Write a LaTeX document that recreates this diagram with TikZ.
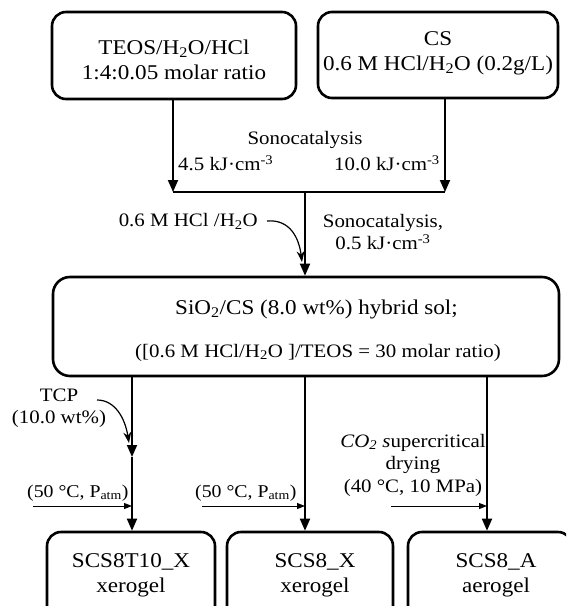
\documentclass[tikz,border=0pt]{standalone}
\usepackage{fontspec}
\setmainfont{Liberation Serif}[FakeStretch=1.1]
\usetikzlibrary{arrows.meta}
\tikzset{
  box/.style={draw, line width=2.6pt, rounded corners=14pt, inner sep=0pt},
  main/.style={font=\fontsize{21}{25}\selectfont, inner sep=0pt, align=center},
  sub/.style={font=\fontsize{19}{22.5}\selectfont, inner sep=0pt, align=center},
  lbl/.style={font=\fontsize{19}{22.5}\selectfont, inner sep=0pt, align=center},
  cond/.style={font=\fontsize{18}{22}\selectfont, inner sep=0pt, align=center},
  arr/.style={line width=1.8pt, -{Triangle[length=12pt,width=10pt]}},
  thinarr/.style={line width=1pt, -{Triangle[length=8pt,width=6pt]}},
  curarr/.style={line width=1.2pt, -{Stealth[length=11pt,width=8pt]}},
  plain/.style={line width=1.8pt},
}
\begin{document}
\begin{tikzpicture}[x=1pt,y=-1pt]
\useasboundingbox (0,0) rectangle (566,606);
\clip (0,0) rectangle (566,606);
% boxes
\node[box, minimum width=244pt, minimum height=87pt] (a) at (174,55.5) {};
\node[box, minimum width=240pt, minimum height=86pt] (b) at (438,55) {};
\node[box, minimum width=506pt, minimum height=99pt, rounded corners=17pt] (c) at (306,326.5) {};
\node[box, minimum width=168pt, minimum height=93pt] (d) at (131,578.5) {};
\node[box, minimum width=166pt, minimum height=93pt] (e) at (310,578.5) {};
\node[box, minimum width=164pt, minimum height=93pt] (f) at (490,578.5) {};
% box texts
\node[main] (ta) at (174,60) {TEOS/H\textsubscript{2}O/HCl\\1:4:0.05 molar ratio};
\node[main] (tb) at (438,53) {CS\\0.6 M HCl/H\textsubscript{2}O (0.2g/L)};
\node[main, anchor=base west] (tc1) at (175,314) {SiO\textsubscript{2}/CS (8.0 wt\%) hybrid sol;};
\node[sub, anchor=base west] (tc2) at (135,357) {([0.6 M HCl/H\textsubscript{2}O ]/TEOS = 30 molar ratio)};
\node[main] (td) at (131,575) {SCS8T10\_X\\xerogel};
\node[main] (te) at (315,575) {SCS8\_X\\xerogel};
\node[main] (tf) at (496,575) {SCS8\_A\\aerogel};
% junction
\coordinate (jl) at (173,192);
\coordinate (jr) at (445,192);
\coordinate (jm) at (305,192);
\draw[arr] (a.south -| jl) -- (jl);
\draw[arr] (b.south -| jr) -- (jr);
\draw[plain] (jl) -- (jr);
\draw[arr] (jm) -- (c.north -| jm);
% labels top
\node[lbl] (l1) at (305,140) {Sonocatalysis};
\node[lbl, anchor=west] (l2) at (178,163) {4.5 kJ·cm\textsuperscript{-3}};
\node[lbl, anchor=east] (l3) at (440,163) {10.0 kJ·cm\textsuperscript{-3}};
\node[lbl, anchor=east] (l4) at (258,221) {0.6 M HCl /H\textsubscript{2}O};
\node[lbl] (l5) at (383,232) {Sonocatalysis,\\0.5 kJ·cm\textsuperscript{-3}};
\coordinate (k1) at (302,262);
\draw[curarr] ([xshift=9pt]l4.east) .. controls (290,219) and (299,238) .. (k1);
% branches
\coordinate (bl) at (132,457);
\coordinate (bm) at (305,0);
\coordinate (br) at (487,0);
\draw[arr] (c.south -| bl) -- (bl);
\draw[arr] (bl) -- (d.north -| bl);
\draw[arr] (c.south -| bm) -- (e.north -| bm);
\draw[arr] (c.south -| br) -- (f.north -| br);
% TCP
\node[lbl] (tcp) at (59,408) {TCP\\(10.0 wt\%)};
\coordinate (k2) at (129,443);
\draw[curarr] (97,400) .. controls (115,400) and (125,418) .. (k2);
% conditions
\node[cond, anchor=west] (p1) at (27,493) {(50 °C, P\textsubscript{atm})};
\node[cond, anchor=west] (p2) at (195,493) {(50 °C, P\textsubscript{atm})};
\node[lbl] (p3) at (413,465) {\textit{CO\textsubscript{2} s}upercritical\\drying\\(40 °C, 10 MPa)};
\coordinate (s1) at (33,506);
\coordinate (s2) at (202,506);
\coordinate (s3) at (391,506);
\draw[thinarr] (s1) -- (s1 -| bl);
\draw[thinarr] (s2) -- (s2 -| bm);
\draw[thinarr] (s3) -- (s3 -| br);
\end{tikzpicture}
\end{document}
